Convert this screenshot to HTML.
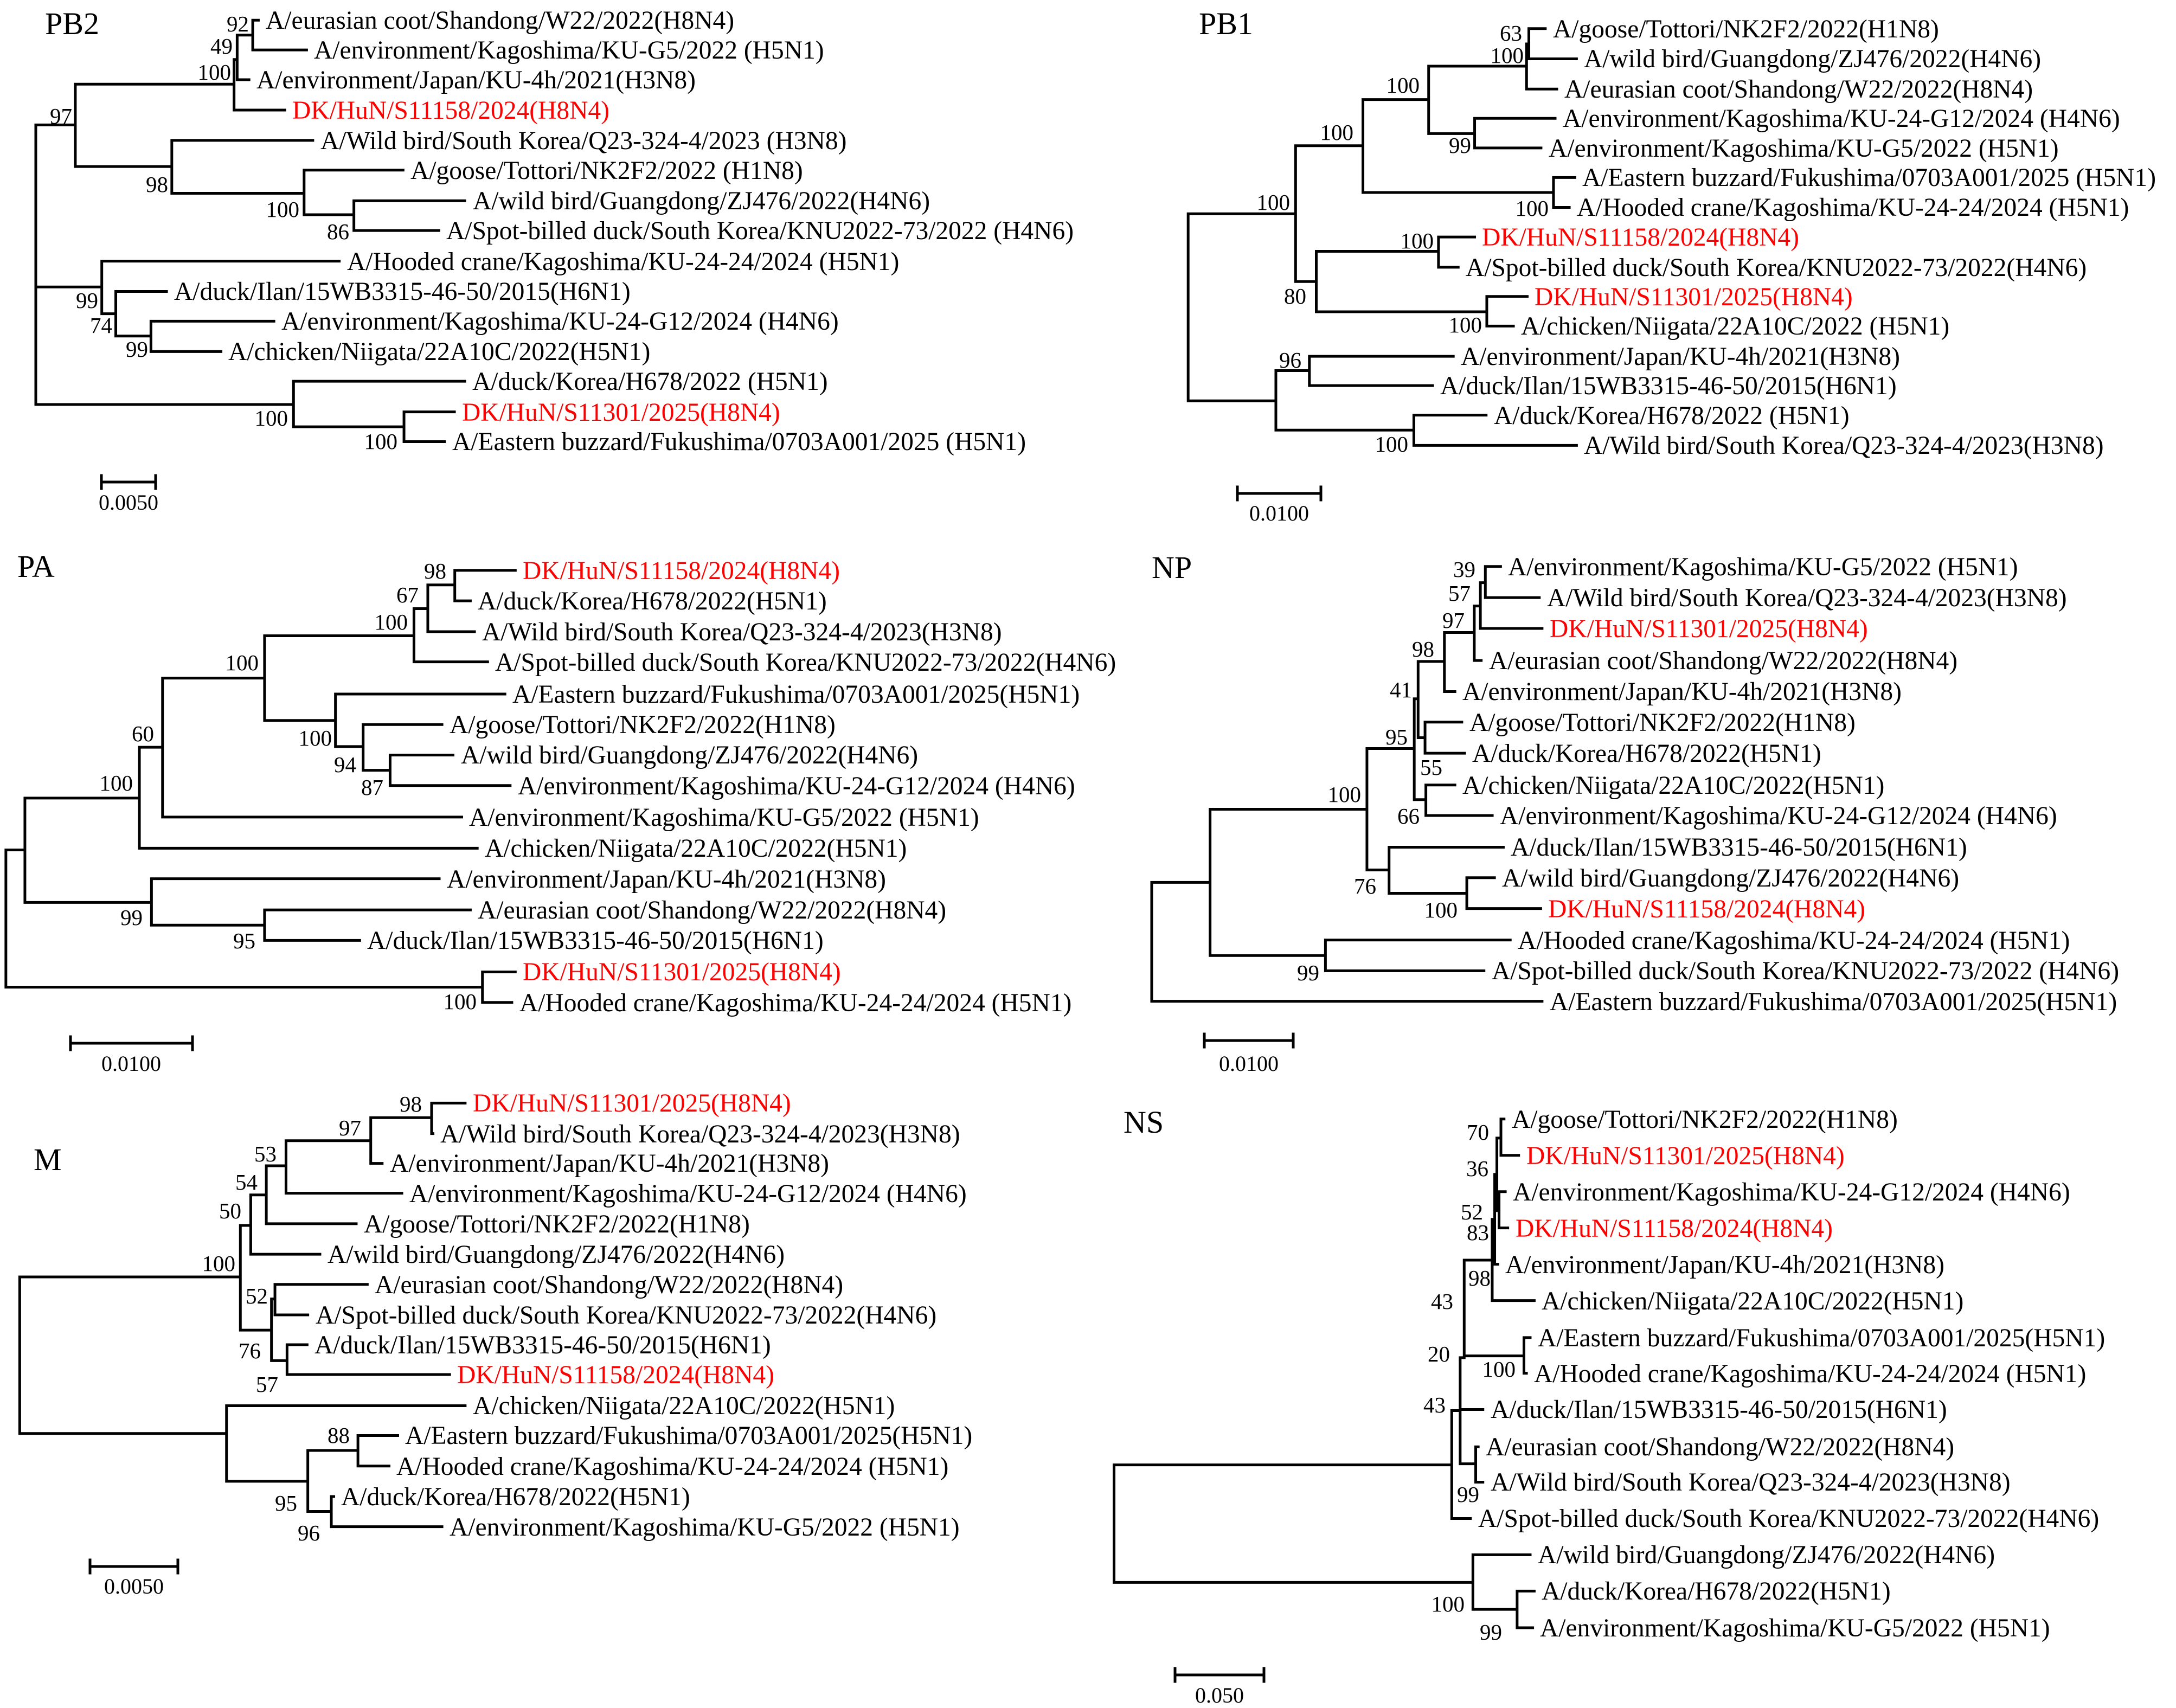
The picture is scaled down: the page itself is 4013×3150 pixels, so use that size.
<!DOCTYPE html>
<html><head><meta charset="utf-8"><style>
html,body{margin:0;padding:0;background:#fff;}
svg{display:block;}
text{font-family:"Liberation Serif","DejaVu Serif",serif;fill:#000;}
.t{font-size:47.5px;}
.r{fill:#ff0000;}
.b{font-size:41px;text-anchor:end;}
.h{font-size:58px;}
.s{font-size:40px;text-anchor:middle;}
path{fill:none;stroke:#000;stroke-width:5;stroke-linecap:square;vector-effect:non-scaling-stroke;}
</style></head><body>
<svg width="4013" height="3150" viewBox="0 0 4013 3150" xmlns="http://www.w3.org/2000/svg">
<rect width="4013" height="3150" fill="#fff"/>

<!-- PB2 -->
<g transform="translate(0,0) scale(0.574,0.5485)"><path d="M115 420V1360 M115 420H242 M115 1360H943 M115 965H327 M242 283V560 M242 283H752 M242 560H552 M752 200V370 M752 200H762 M762 118V268 M762 268H800 M762 118H812 M812 68V168 M812 68H830 M812 168H985 M752 370H915 M552 472V650 M552 472H1005 M552 650H977 M977 572V722 M977 572H1295 M977 722H1137 M1137 675V775 M1137 675H1493 M1137 775H1410 M327 878V1055 M327 878H1090 M327 1055H372 M372 980V1130 M372 980H535 M372 1130H485 M485 1080V1182 M485 1080H880 M485 1182H710 M943 1282V1435 M943 1282H1493 M943 1435H1298 M1298 1385V1485 M1298 1385H1460 M1298 1485H1428"/></g>
<text class="h" x="83" y="63">PB2</text>
<text class="t" x="490" y="53">A/eurasian coot/Shandong/W22/2022(H8N4)</text>
<text class="t" x="579" y="108">A/environment/Kagoshima/KU-G5/2022 (H5N1)</text>
<text class="t" x="473" y="163">A/environment/Japan/KU-4h/2021(H3N8)</text>
<text class="t r" x="539" y="219">DK/HuN/S11158/2024(H8N4)</text>
<text class="t" x="591" y="275">A/Wild bird/South Korea/Q23-324-4/2023 (H3N8)</text>
<text class="t" x="757" y="330">A/goose/Tottori/NK2F2/2022 (H1N8)</text>
<text class="t" x="872" y="386">A/wild bird/Guangdong/ZJ476/2022(H4N6)</text>
<text class="t" x="823" y="441">A/Spot-billed duck/South Korea/KNU2022-73/2022 (H4N6)</text>
<text class="t" x="640" y="498">A/Hooded crane/Kagoshima/KU-24-24/2024 (H5N1)</text>
<text class="t" x="321" y="553">A/duck/Ilan/15WB3315-46-50/2015(H6N1)</text>
<text class="t" x="519" y="608">A/environment/Kagoshima/KU-24-G12/2024 (H4N6)</text>
<text class="t" x="421" y="664">A/chicken/Niigata/22A10C/2022(H5N1)</text>
<text class="t" x="871" y="719">A/duck/Korea/H678/2022 (H5N1)</text>
<text class="t r" x="852" y="776">DK/HuN/S11301/2025(H8N4)</text>
<text class="t" x="834" y="830">A/Eastern buzzard/Fukushima/0703A001/2025 (H5N1)</text>
<text class="b" x="459" y="58">92</text>
<text class="b" x="429" y="99">49</text>
<text class="b" x="426" y="147">100</text>
<text class="b" x="133" y="228">97</text>
<text class="b" x="310" y="354">98</text>
<text class="b" x="552" y="400">100</text>
<text class="b" x="644" y="441">86</text>
<text class="b" x="181" y="568">99</text>
<text class="b" x="207" y="614">74</text>
<text class="b" x="273" y="658">99</text>
<text class="b" x="531" y="785">100</text>
<text class="b" x="733" y="828">100</text>
<path d="M187 889H287 M187 877V901 M287 877V901"/>
<text class="s" x="237" y="940">0.0050</text>

<!-- PB1 -->
<g transform="translate(2150,0) scale(0.6059,0.5867)"><path d="M68 672V1260 M68 672H395 M68 1260H335 M395 458V885 M395 458H600 M395 885H458 M600 313V605 M600 313H800 M600 605H1180 M800 208V420 M800 208H1098 M800 420H940 M1098 138V280 M1098 280H1190 M1098 138H1105 M1105 90V185 M1105 90H1155 M1105 185H1250 M940 372V465 M940 372H1185 M940 465H1142 M1180 558V652 M1180 558H1245 M1180 652H1228 M458 790V980 M458 790H830 M458 980H977 M830 745V840 M830 745H940 M830 840H890 M977 932V1025 M977 932H1100 M977 1025H1058 M335 1165V1352 M335 1165H437 M335 1352H755 M437 1120V1212 M437 1120H875 M437 1212H812 M755 1305V1400 M755 1305H975 M755 1400H1250"/></g>
<text class="h" x="2211" y="63">PB1</text>
<text class="t" x="2864" y="69">A/goose/Tottori/NK2F2/2022(H1N8)</text>
<text class="t" x="2921" y="124">A/wild bird/Guangdong/ZJ476/2022(H4N6)</text>
<text class="t" x="2885" y="180">A/eurasian coot/Shandong/W22/2022(H8N4)</text>
<text class="t" x="2882" y="234">A/environment/Kagoshima/KU-24-G12/2024 (H4N6)</text>
<text class="t" x="2856" y="289">A/environment/Kagoshima/KU-G5/2022 (H5N1)</text>
<text class="t" x="2918" y="343">A/Eastern buzzard/Fukushima/0703A001/2025 (H5N1)</text>
<text class="t" x="2908" y="398">A/Hooded crane/Kagoshima/KU-24-24/2024 (H5N1)</text>
<text class="t r" x="2733" y="453">DK/HuN/S11158/2024(H8N4)</text>
<text class="t" x="2703" y="509">A/Spot-billed duck/South Korea/KNU2022-73/2022(H4N6)</text>
<text class="t r" x="2830" y="563">DK/HuN/S11301/2025(H8N4)</text>
<text class="t" x="2805" y="617">A/chicken/Niigata/22A10C/2022 (H5N1)</text>
<text class="t" x="2694" y="673">A/environment/Japan/KU-4h/2021(H3N8)</text>
<text class="t" x="2656" y="727">A/duck/Ilan/15WB3315-46-50/2015(H6N1)</text>
<text class="t" x="2755" y="782">A/duck/Korea/H678/2022 (H5N1)</text>
<text class="t" x="2921" y="837">A/Wild bird/South Korea/Q23-324-4/2023(H3N8)</text>
<text class="b" x="2807" y="75">63</text>
<text class="b" x="2810" y="116">100</text>
<text class="b" x="2618" y="171">100</text>
<text class="b" x="2496" y="258">100</text>
<text class="b" x="2379" y="387">100</text>
<text class="b" x="2713" y="282">99</text>
<text class="b" x="2856" y="398">100</text>
<text class="b" x="2644" y="458">100</text>
<text class="b" x="2409" y="560">80</text>
<text class="b" x="2733" y="613">100</text>
<text class="b" x="2400" y="678">96</text>
<text class="b" x="2597" y="833">100</text>
<path d="M2282 910H2436 M2282 898V922 M2436 898V922"/>
<text class="s" x="2359" y="960">0.0100</text>

<!-- PA -->
<g transform="translate(0,980) scale(0.6378,0.625)"><path d="M17 940V1345 M17 940H72 M17 1345H1395 M72 787V1095 M72 787H403 M72 1095H438 M403 637V935 M403 637H470 M403 935H1380 M470 433V843 M470 433H765 M470 843H1335 M765 308V558 M765 308H1197 M765 558H970 M1197 228V385 M1197 228H1237 M1197 385H1410 M1237 158V296 M1237 158H1315 M1237 296H1372 M1315 115V205 M1315 115H1490 M1315 205H1360 M970 480V635 M970 480H1460 M970 635H1050 M1050 570V705 M1050 570H1278 M1050 705H1128 M1128 660V750 M1128 660H1310 M1128 750H1475 M438 1025V1162 M438 1025H1270 M438 1162H765 M765 1117V1207 M765 1117H1360 M765 1207H1040 M1395 1300V1390 M1395 1300H1490 M1395 1390H1480"/></g>
<text class="h" x="32" y="1064">PA</text>
<text class="t r" x="964" y="1068">DK/HuN/S11158/2024(H8N4)</text>
<text class="t" x="881" y="1124">A/duck/Korea/H678/2022(H5N1)</text>
<text class="t" x="889" y="1181">A/Wild bird/South Korea/Q23-324-4/2023(H3N8)</text>
<text class="t" x="913" y="1237">A/Spot-billed duck/South Korea/KNU2022-73/2022(H4N6)</text>
<text class="t" x="945" y="1296">A/Eastern buzzard/Fukushima/0703A001/2025(H5N1)</text>
<text class="t" x="829" y="1352">A/goose/Tottori/NK2F2/2022(H1N8)</text>
<text class="t" x="850" y="1408">A/wild bird/Guangdong/ZJ476/2022(H4N6)</text>
<text class="t" x="955" y="1465">A/environment/Kagoshima/KU-24-G12/2024 (H4N6)</text>
<text class="t" x="865" y="1523">A/environment/Kagoshima/KU-G5/2022 (H5N1)</text>
<text class="t" x="894" y="1580">A/chicken/Niigata/22A10C/2022(H5N1)</text>
<text class="t" x="824" y="1637">A/environment/Japan/KU-4h/2021(H3N8)</text>
<text class="t" x="881" y="1694">A/eurasian coot/Shandong/W22/2022(H8N4)</text>
<text class="t" x="677" y="1750">A/duck/Ilan/15WB3315-46-50/2015(H6N1)</text>
<text class="t r" x="964" y="1808">DK/HuN/S11301/2025(H8N4)</text>
<text class="t" x="958" y="1865">A/Hooded crane/Kagoshima/KU-24-24/2024 (H5N1)</text>
<text class="b" x="823" y="1067">98</text>
<text class="b" x="772" y="1111">67</text>
<text class="b" x="752" y="1161">100</text>
<text class="b" x="477" y="1236">100</text>
<text class="b" x="284" y="1367">60</text>
<text class="b" x="245" y="1458">100</text>
<text class="b" x="612" y="1375">100</text>
<text class="b" x="657" y="1424">94</text>
<text class="b" x="707" y="1466">87</text>
<text class="b" x="263" y="1706">99</text>
<text class="b" x="471" y="1749">95</text>
<text class="b" x="879" y="1861">100</text>
<path d="M130 1924H355 M130 1912V1936 M355 1912V1936"/>
<text class="s" x="242" y="1975">0.0100</text>

<!-- NP -->
<g transform="translate(2150,1000) scale(0.5102,0.574)"><path d="M-51 1093V1475 M-51 1093H160 M-51 1475H1360 M160 858V1328 M160 858H727 M160 1328H577 M727 663V1053 M727 663H898 M727 1053H807 M898 503V827 M898 503H912 M898 827H940 M912 383V628 M912 383H1007 M912 628H937 M1007 290V480 M1007 290H1115 M1007 480H1045 M1115 205V380 M1115 205H1137 M1115 380H1140 M1137 130V277 M1137 130H1155 M1137 277H1360 M1155 78V178 M1155 78H1210 M1155 178H1350 M937 578V678 M937 578H1070 M937 678H1080 M940 780V878 M940 780H1045 M940 878H1180 M807 980V1128 M807 980H1220 M807 1128H1088 M1088 1078V1177 M1088 1078H1188 M1088 1177H1355 M577 1278V1377 M577 1278H1245 M577 1377H1150"/></g>
<text class="h" x="2124" y="1066">NP</text>
<text class="t" x="2781" y="1061">A/environment/Kagoshima/KU-G5/2022 (H5N1)</text>
<text class="t" x="2853" y="1118">A/Wild bird/South Korea/Q23-324-4/2023(H3N8)</text>
<text class="t r" x="2858" y="1175">DK/HuN/S11301/2025(H8N4)</text>
<text class="t" x="2746" y="1234">A/eurasian coot/Shandong/W22/2022(H8N4)</text>
<text class="t" x="2697" y="1291">A/environment/Japan/KU-4h/2021(H3N8)</text>
<text class="t" x="2710" y="1348">A/goose/Tottori/NK2F2/2022(H1N8)</text>
<text class="t" x="2715" y="1405">A/duck/Korea/H678/2022(H5N1)</text>
<text class="t" x="2697" y="1464">A/chicken/Niigata/22A10C/2022(H5N1)</text>
<text class="t" x="2766" y="1520">A/environment/Kagoshima/KU-24-G12/2024 (H4N6)</text>
<text class="t" x="2786" y="1578">A/duck/Ilan/15WB3315-46-50/2015(H6N1)</text>
<text class="t" x="2770" y="1635">A/wild bird/Guangdong/ZJ476/2022(H4N6)</text>
<text class="t r" x="2855" y="1692">DK/HuN/S11158/2024(H8N4)</text>
<text class="t" x="2799" y="1750">A/Hooded crane/Kagoshima/KU-24-24/2024 (H5N1)</text>
<text class="t" x="2751" y="1806">A/Spot-billed duck/South Korea/KNU2022-73/2022 (H4N6)</text>
<text class="t" x="2858" y="1863">A/Eastern buzzard/Fukushima/0703A001/2025(H5N1)</text>
<text class="b" x="2721" y="1064">39</text>
<text class="b" x="2712" y="1108">57</text>
<text class="b" x="2701" y="1158">97</text>
<text class="b" x="2645" y="1211">98</text>
<text class="b" x="2604" y="1286">41</text>
<text class="b" x="2596" y="1373">95</text>
<text class="b" x="2660" y="1429">55</text>
<text class="b" x="2510" y="1479">100</text>
<text class="b" x="2618" y="1519">66</text>
<text class="b" x="2538" y="1648">76</text>
<text class="b" x="2688" y="1692">100</text>
<text class="b" x="2433" y="1808">99</text>
<path d="M2221 1919H2385 M2221 1907V1931 M2385 1907V1931"/>
<text class="s" x="2303" y="1975">0.0100</text>

<!-- M -->
<g transform="translate(0,1980) scale(0.6378,0.625)"><path d="M57 600V1062 M57 600H695 M57 1062H655 M695 448V757 M695 448H725 M695 757H785 M725 358V533 M725 358H770 M725 533H925 M770 272V443 M770 272H827 M770 443H1030 M827 198V353 M827 198H1072 M827 353H1162 M1072 130V265 M1072 130H1248 M1072 265H1105 M1248 87V177 M1248 87H1345 M1248 177H1252 M785 665V847 M785 665H795 M785 847H830 M795 622V712 M795 622H1062 M795 712H890 M830 800V888 M830 800H888 M830 888H1300 M655 980V1203 M655 980H1345 M655 1203H890 M890 1112V1292 M890 1112H1035 M890 1292H958 M1035 1068V1158 M1035 1068H1150 M1035 1158H1125 M958 1248V1337 M958 1248H965 M958 1337H1278"/></g>
<text class="h" x="62" y="2158">M</text>
<text class="t r" x="872" y="2050">DK/HuN/S11301/2025(H8N4)</text>
<text class="t" x="812" y="2107">A/Wild bird/South Korea/Q23-324-4/2023(H3N8)</text>
<text class="t" x="719" y="2161">A/environment/Japan/KU-4h/2021(H3N8)</text>
<text class="t" x="755" y="2217">A/environment/Kagoshima/KU-24-G12/2024 (H4N6)</text>
<text class="t" x="671" y="2273">A/goose/Tottori/NK2F2/2022(H1N8)</text>
<text class="t" x="604" y="2329">A/wild bird/Guangdong/ZJ476/2022(H4N6)</text>
<text class="t" x="691" y="2385">A/eurasian coot/Shandong/W22/2022(H8N4)</text>
<text class="t" x="582" y="2441">A/Spot-billed duck/South Korea/KNU2022-73/2022(H4N6)</text>
<text class="t" x="580" y="2496">A/duck/Ilan/15WB3315-46-50/2015(H6N1)</text>
<text class="t r" x="843" y="2551">DK/HuN/S11158/2024(H8N4)</text>
<text class="t" x="872" y="2608">A/chicken/Niigata/22A10C/2022(H5N1)</text>
<text class="t" x="747" y="2663">A/Eastern buzzard/Fukushima/0703A001/2025(H5N1)</text>
<text class="t" x="731" y="2720">A/Hooded crane/Kagoshima/KU-24-24/2024 (H5N1)</text>
<text class="t" x="629" y="2776">A/duck/Korea/H678/2022(H5N1)</text>
<text class="t" x="829" y="2832">A/environment/Kagoshima/KU-G5/2022 (H5N1)</text>
<text class="b" x="778" y="2050">98</text>
<text class="b" x="666" y="2094">97</text>
<text class="b" x="510" y="2142">53</text>
<text class="b" x="475" y="2194">54</text>
<text class="b" x="445" y="2247">50</text>
<text class="b" x="434" y="2344">100</text>
<text class="b" x="494" y="2404">52</text>
<text class="b" x="481" y="2505">76</text>
<text class="b" x="513" y="2567">57</text>
<text class="b" x="645" y="2661">88</text>
<text class="b" x="548" y="2786">95</text>
<text class="b" x="590" y="2841">96</text>
<path d="M166 2889H328 M166 2877V2901 M328 2877V2901"/>
<text class="s" x="247" y="2939">0.0050</text>

<!-- NS -->
<g transform="translate(2000,2000) scale(0.574,0.6378)"><path d="M95 1100V1440 M95 1100H1180 M95 1440H1248 M1180 943V1255 M1180 943H1207 M1180 1255H1240 M1207 790V1097 M1207 790H1220 M1207 1097H1257 M1207 940H1280 M1220 508V785 M1220 508H1310 M1220 785H1412 M1310 390V625 M1310 625H1445 M1310 390H1318 M1318 260V520 M1318 520H1328 M1318 260H1325 M1325 155V365 M1325 155H1338 M1325 365H1332 M1338 100V205 M1338 100H1348 M1338 205H1395 M1332 310V415 M1332 310H1352 M1332 415H1360 M1412 732V835 M1412 732H1432 M1412 835H1420 M1257 1048V1150 M1257 1048H1265 M1257 1150H1280 M1248 1360V1518 M1248 1360H1432 M1248 1518H1390 M1390 1465V1571 M1390 1465H1445 M1390 1571H1440"/></g>
<text class="h" x="2072" y="2089">NS</text>
<text class="t" x="2788" y="2080">A/goose/Tottori/NK2F2/2022(H1N8)</text>
<text class="t r" x="2815" y="2147">DK/HuN/S11301/2025(H8N4)</text>
<text class="t" x="2790" y="2214">A/environment/Kagoshima/KU-24-G12/2024 (H4N6)</text>
<text class="t r" x="2795" y="2281">DK/HuN/S11158/2024(H8N4)</text>
<text class="t" x="2776" y="2348">A/environment/Japan/KU-4h/2021(H3N8)</text>
<text class="t" x="2843" y="2415">A/chicken/Niigata/22A10C/2022(H5N1)</text>
<text class="t" x="2836" y="2483">A/Eastern buzzard/Fukushima/0703A001/2025(H5N1)</text>
<text class="t" x="2829" y="2549">A/Hooded crane/Kagoshima/KU-24-24/2024 (H5N1)</text>
<text class="t" x="2749" y="2615">A/duck/Ilan/15WB3315-46-50/2015(H6N1)</text>
<text class="t" x="2740" y="2684">A/eurasian coot/Shandong/W22/2022(H8N4)</text>
<text class="t" x="2749" y="2749">A/Wild bird/South Korea/Q23-324-4/2023(H3N8)</text>
<text class="t" x="2726" y="2816">A/Spot-billed duck/South Korea/KNU2022-73/2022(H4N6)</text>
<text class="t" x="2836" y="2883">A/wild bird/Guangdong/ZJ476/2022(H4N6)</text>
<text class="t" x="2843" y="2950">A/duck/Korea/H678/2022(H5N1)</text>
<text class="t" x="2840" y="3018">A/environment/Kagoshima/KU-G5/2022 (H5N1)</text>
<text class="b" x="2746" y="2102">70</text>
<text class="b" x="2745" y="2169">36</text>
<text class="b" x="2735" y="2249">52</text>
<text class="b" x="2746" y="2287">83</text>
<text class="b" x="2749" y="2371">98</text>
<text class="b" x="2680" y="2414">43</text>
<text class="b" x="2674" y="2511">20</text>
<text class="b" x="2795" y="2539">100</text>
<text class="b" x="2666" y="2605">43</text>
<text class="b" x="2728" y="2770">99</text>
<text class="b" x="2701" y="2972">100</text>
<text class="b" x="2770" y="3024">99</text>
<path d="M2167 3089H2331 M2167 3077V3101 M2331 3077V3101"/>
<text class="s" x="2249" y="3140">0.050</text>
</svg>
</body></html>
